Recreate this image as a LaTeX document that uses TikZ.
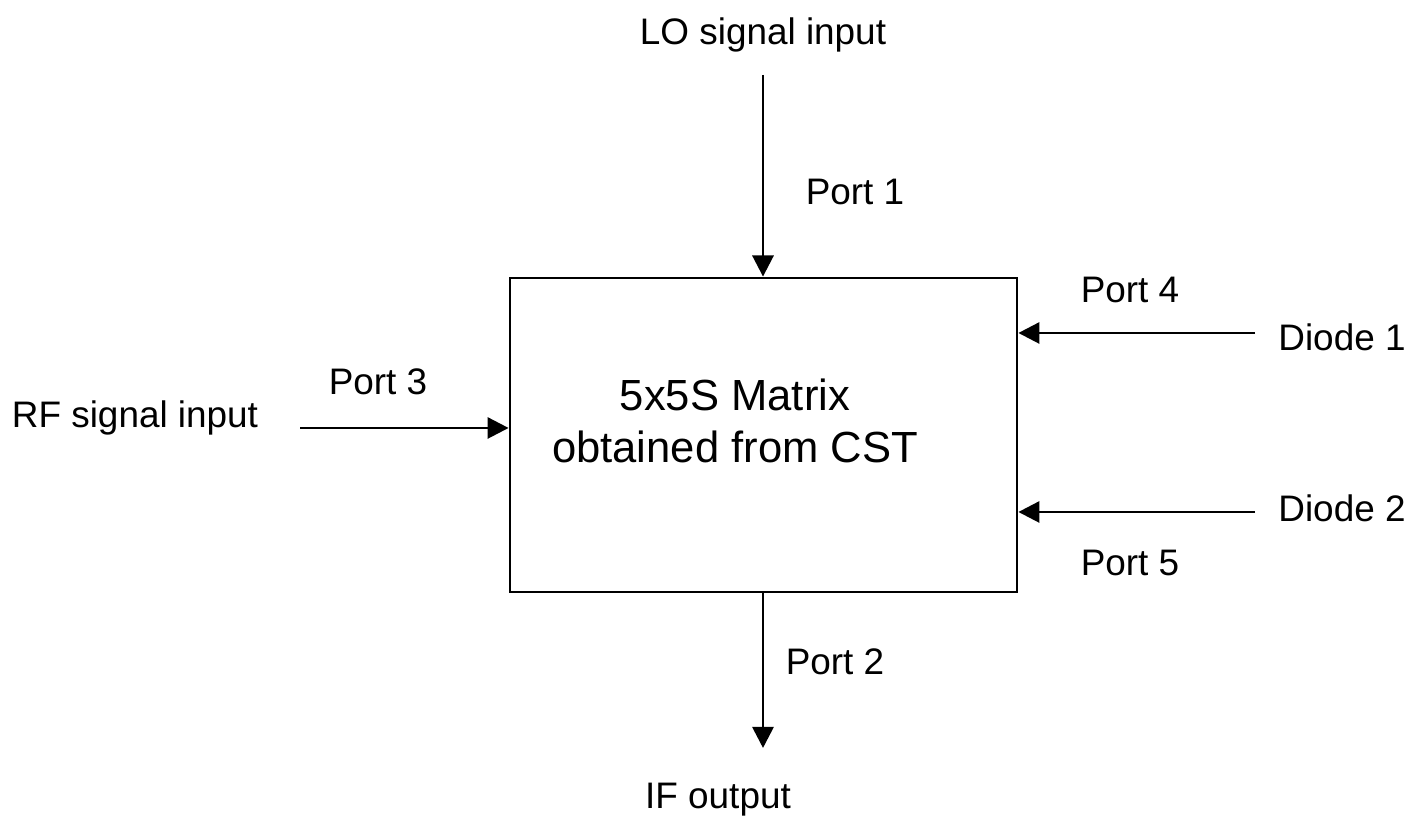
\documentclass[tikz,border=0pt]{standalone}
\usepackage{fontspec}
\setmainfont{Liberation Sans}
\usetikzlibrary{arrows.meta}

\tikzset{
    lbl/.style={font=\fontsize{10.5}{12.6}\selectfont, inner sep=0pt},
    sig/.style={thick, -{Triangle[length=6pt, width=6pt]}}
}

\begin{document}
\begin{tikzpicture}[scale=1]
        \useasboundingbox (0, 0) rectangle (14.25, 8.18);

        % the matrix block
        \node[draw, thick, minimum width=5.07cm, minimum height=3.14cm, inner sep=0pt] (mtx) at (7.635, 3.83) {};
        \node[align=center, font=\fontsize{12.4}{14.8}\selectfont] (mtxtxt) at (7.35, 3.97) {5x5S Matrix\\obtained from CST};

        % signal names
        \node[lbl] (lo) at (7.63, 7.83) {LO signal input};
        \node[lbl] (rf) at (1.35, 4.00) {RF signal input};
        \node[lbl] (d1) at (13.42, 4.81) {Diode 1};
        \node[lbl] (d2) at (13.42, 3.10) {Diode 2};
        \node[lbl] (ifo) at (7.18, 0.18) {IF output};

        % port names
        \node[lbl] (p1) at (8.55, 6.26) {Port 1};
        \node[lbl] (p2) at (8.35, 1.56) {Port 2};
        \node[lbl] (p3) at (3.78, 4.36) {Port 3};
        \node[lbl] (p4) at (11.30, 5.28) {Port 4};
        \node[lbl] (p5) at (11.30, 2.55) {Port 5};

        % free arrow ends
        \coordinate (loend) at (7.63, 7.43);
        \coordinate (rfend) at (3.00, 3.90);
        \coordinate (d1end) at (12.55, 4.85);
        \coordinate (d2end) at (12.55, 3.06);
        \coordinate (ifend) at (7.63, 0.70);

        \draw[sig] (loend) -- (loend |- mtx.north);
        \draw[sig] (rfend) -- (mtx.west |- rfend);
        \draw[sig] (d1end) -- (mtx.east |- d1end);
        \draw[sig] (d2end) -- (mtx.east |- d2end);
        \draw[sig] (ifend |- mtx.south) -- (ifend);
    \end{tikzpicture}
\end{document}
